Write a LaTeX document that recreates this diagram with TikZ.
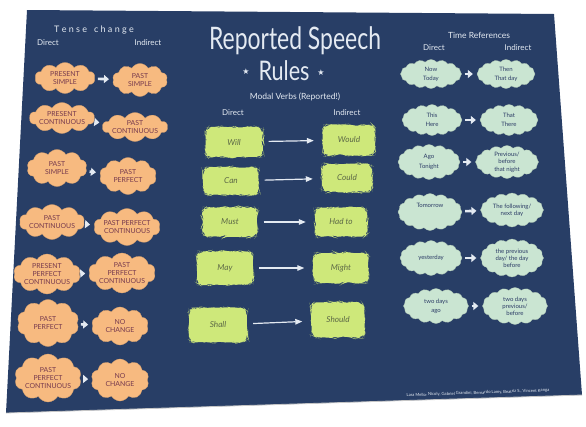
\documentclass[tikz,border=0pt]{standalone}
\usepackage{fontspec}
\usepackage{graphicx}
\setmainfont{Lato}
\newfontfamily\symfont{DejaVu Sans}
\usetikzlibrary{shapes.symbols,decorations.pathmorphing,arrows.meta}

\definecolor{board}{RGB}{40,62,102}
\definecolor{chalk}{RGB}{228,234,242}
\definecolor{peach}{RGB}{247,186,128}
\definecolor{peachink}{RGB}{118,58,78}
\definecolor{lime}{RGB}{206,232,122}
\definecolor{limeink}{RGB}{92,104,70}
\definecolor{mint}{RGB}{202,229,210}
\definecolor{mintink}{RGB}{44,60,102}

\tikzset{
  chalktext/.style={text=chalk, inner sep=0pt},
  tense/.style={cloud, cloud puffs=10, cloud puff arc=120, cloud ignores aspect,
    fill=peach, draw=peach!85!black, line width=0.3pt, text=peachink,
    font=\fontsize{6.9}{7.6}\selectfont, align=center, inner sep=0pt},
  modal/.style={rectangle, rounded corners=6pt, fill=lime,
    text=limeink, font=\fontsize{8.2}{9}\selectfont\itshape,
    decorate, decoration={random steps, segment length=3.6pt, amplitude=1pt},
    inner sep=0pt},
  timeref/.style={cloud, cloud puffs=16, cloud puff arc=100, cloud ignores aspect,
    fill=mint, draw=mint!85!black, line width=0.3pt, text=mintink,
    font=\fontsize{6}{7}\selectfont, align=center, inner sep=0pt},
  fatarrow/.style={-{Triangle[length=5pt,width=8pt]}, line width=2.6pt, chalk,
    shorten <=3pt, shorten >=4pt},
  longarrow/.style={-{Triangle[length=7pt,width=5.5pt]}, line width=1.2pt, chalk,
    shorten <=6pt, shorten >=9pt},
}

\begin{document}
\pgfmathsetseed{7}
\begin{tikzpicture}[x=1pt, y=-1pt]
\useasboundingbox (0,0) rectangle (586,426);

% the board
\fill[board] (27,10) -- (554,14) -- (582,395) -- (6,413) -- cycle;
\draw[gray!45, line width=0.8pt] (6,413) -- (582,395);

% ---- tense change ----
\node[chalktext, font=\fontsize{9}{9}\selectfont] (tenseh) at (94,30) {T e n s e \ \ c h a n g e};
\node[chalktext, font=\fontsize{8}{8}\selectfont] (tensed) at (48,43) {Direct};
\node[chalktext, font=\fontsize{8}{8}\selectfont] (tensei) at (148,43) {Indirect};

\node[tense, minimum width=60pt, minimum height=31pt] (t1a) at (65,78) {PRESENT\\SIMPLE};
\node[tense, minimum width=55pt, minimum height=33pt] (t1b) at (140,80) {PAST\\SIMPLE};
\node[tense, minimum width=58pt, minimum height=31pt] (t2a) at (62,118) {PRESENT\\CONTINUOUS};
\node[tense, minimum width=53pt, minimum height=29pt] (t2b) at (135,127) {PAST\\CONTINUOUS};
\node[tense, minimum width=60pt, minimum height=37pt] (t3a) at (57,168) {PAST\\SIMPLE};
\node[tense, minimum width=57pt, minimum height=37pt] (t3b) at (128,176) {PAST\\PERFECT};
\node[tense, minimum width=55pt, minimum height=35pt] (t4a) at (52,222) {PAST\\CONTINUOUS};
\node[tense, minimum width=55pt, minimum height=37pt] (t4b) at (127,227) {PAST PERFECT\\CONTINUOUS};
\node[tense, minimum width=54pt, minimum height=40pt] (t5a) at (47,274) {PRESENT\\PERFECT\\CONTINUOUS};
\node[tense, minimum width=53pt, minimum height=40pt] (t5b) at (122,273) {PAST\\PERFECT\\CONTINUOUS};
\node[tense, minimum width=62pt, minimum height=47pt] (t6a) at (48,323) {PAST\\PERFECT};
\node[tense, minimum width=57pt, minimum height=38pt] (t6b) at (120,326) {NO\\CHANGE};
\node[tense, minimum width=63pt, minimum height=48pt] (t7a) at (48,378) {PAST\\PERFECT\\CONTINUOUS};
\node[tense, minimum width=58pt, minimum height=42pt] (t7b) at (120,380) {NO\\CHANGE};

\foreach \r in {1,...,7} \draw[fatarrow] (t\r a) -- (t\r b);

% ---- title and modal verbs ----
\node[chalktext] (title) at (295,41)
  {\scalebox{0.74}[1]{\fontsize{31}{31}\selectfont Reported Speech}};
\node[chalktext] (rules) at (284,71)
  {\scalebox{0.8}[1]{\fontsize{27}{27}\selectfont Rules}};
\node[chalktext, font=\symfont\fontsize{8}{8}\selectfont] (starl) at (246,72) {★};
\node[chalktext, font=\symfont\fontsize{8}{8}\selectfont] (starr) at (321,73) {★};
\node[chalktext, font=\fontsize{8.5}{9}\selectfont] (modalh) at (295,97) {Modal Verbs (Reported!)};
\node[chalktext, font=\fontsize{8}{8}\selectfont] (modald) at (233,113) {Direct};
\node[chalktext, font=\fontsize{8}{8}\selectfont] (modali) at (347,113) {Indirect};

\node[modal, minimum width=57pt, minimum height=30pt] (m1a) at (234,142) {Will};
\node[modal, minimum width=52pt, minimum height=30pt] (m1b) at (349,140) {Would};
\node[modal, minimum width=55pt, minimum height=28pt] (m2a) at (231,181) {Can};
\node[modal, minimum width=50pt, minimum height=28pt] (m2b) at (347,178) {Could};
\node[modal, minimum width=55pt, minimum height=29pt] (m3a) at (230,222) {Must};
\node[modal, minimum width=52pt, minimum height=29pt] (m3b) at (341,222) {Had to};
\node[modal, minimum width=56pt, minimum height=33pt] (m4a) at (225,268) {May};
\node[modal, minimum width=55pt, minimum height=30pt] (m4b) at (341,268) {Might};
\node[modal, minimum width=58pt, minimum height=34pt] (m5a) at (218,325) {Shall};
\node[modal, minimum width=53pt, minimum height=35pt] (m5b) at (338,320) {Should};

\foreach \r in {1,...,5} \draw[longarrow] (m\r a) -- (m\r b);

% ---- time references ----
\node[chalktext, font=\fontsize{8.5}{9}\selectfont] (timeh) at (479,35) {Time References};
\node[chalktext, font=\fontsize{8}{8}\selectfont] (timed) at (434,48) {Direct};
\node[chalktext, font=\fontsize{8}{8}\selectfont] (timei) at (518,48) {Indirect};

\node[timeref, minimum width=61pt, minimum height=29pt] (r1a) at (431,74) {Now\\[2pt]Today};
\node[timeref, minimum width=58pt, minimum height=29pt] (r1b) at (506,74) {Then\\[2pt]That day};
\node[timeref, minimum width=60pt, minimum height=31pt] (r2a) at (432,120) {This\\[2pt]Here};
\node[timeref, minimum width=58pt, minimum height=31pt] (r2b) at (509,120) {That\\[2pt]There};
\node[timeref, minimum width=62pt, minimum height=35pt] (r3a) at (429,162) {Ago\\[3pt]Tonight};
\node[timeref, minimum width=63pt, minimum height=33pt] (r3b) at (507,162) {Previous/\\before\\[1pt]that night};
\node[timeref, minimum width=64pt, minimum height=37pt] (r4a) at (430,212) {Tomorrow\\[7pt]\mbox{}};
\node[timeref, minimum width=63pt, minimum height=34pt] (r4b) at (512,210) {The following/\\next day};
\node[timeref, minimum width=62pt, minimum height=35pt] (r5a) at (431,258) {yesterday};
\node[timeref, minimum width=63pt, minimum height=38pt] (r5b) at (512,258) {the previous\\day/ the day\\before};
\node[timeref, minimum width=65pt, minimum height=35pt] (r6a) at (436,306) {two days\\[2pt]ago};
\node[timeref, minimum width=65pt, minimum height=37pt] (r6b) at (515,306) {two days\\previous/\\before};

\foreach \r in {1,...,6} \draw[fatarrow] (r\r a) -- (r\r b);

% ---- authors ----
\node[chalktext, font=\fontsize{4.2}{5}\selectfont, rotate=2] (authors) at (478,393)
  {Lara Mello, Nicoly, Gabriel Grandini, Bernardo Lamy, Beatriz S., Vincent Kanga};
\end{tikzpicture}
\end{document}
